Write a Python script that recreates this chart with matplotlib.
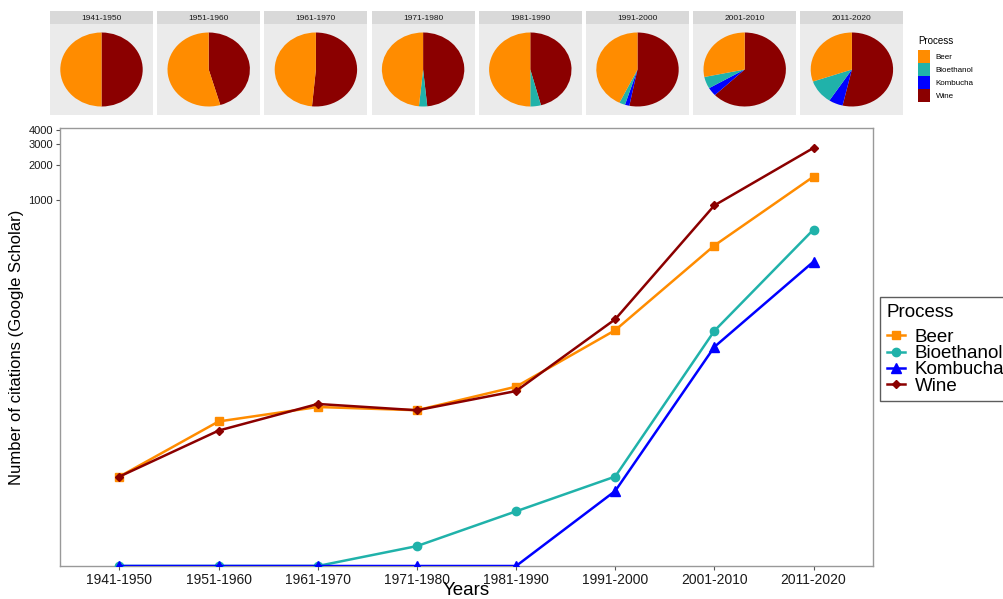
import numpy as np
import matplotlib
matplotlib.use("Agg")
import matplotlib.pyplot as plt
from matplotlib.lines import Line2D
from matplotlib.patches import Patch

plt.rcParams['font.family'] = ['Liberation Sans', 'DejaVu Sans']

decades = ['1941-1950', '1951-1960', '1961-1970', '1971-1980',
           '1981-1990', '1991-2000', '2001-2010', '2011-2020']
processes = ['Beer', 'Bioethanol', 'Kombucha', 'Wine']
beer = [4, 12, 16, 15, 24, 74, 400, 1580]
bioethanol = [0, 0, 0, 1, 2, 4, 73, 550]
kombucha = [0, 0, 0, 0, 0, 3, 53, 290]
wine = [4, 10, 17, 15, 22, 92, 890, 2800]
yticks = [1000, 2000, 3000, 4000]

colors = {'Beer': '#FF8C00', 'Bioethanol': '#20B2AA',
          'Kombucha': '#0000FF', 'Wine': '#8B0000'}
markers = {'Beer': 's', 'Bioethanol': 'o', 'Kombucha': '^', 'Wine': 'D'}
msizes = {'Beer': 6, 'Bioethanol': 6, 'Kombucha': 6.5, 'Wine': 4.2}
series = {'Beer': beer, 'Bioethanol': bioethanol,
          'Kombucha': kombucha, 'Wine': wine}

W, H = 1004, 599
fig = plt.figure(figsize=(W / 100, H / 100), dpi=100)

def box(x0, y0, x1, y1):
    return [x0 / W, 1 - y1 / H, (x1 - x0) / W, (y1 - y0) / H]

# --- small pies on top ---
pie_order = ['Wine', 'Kombucha', 'Bioethanol', 'Beer']
for i, d in enumerate(decades):
    x0 = 50 + i * 107.2
    ax = fig.add_axes(box(x0, 24, x0 + 103, 115))
    vals = [series[p][i] for p in pie_order]
    ax.pie(vals, colors=[colors[p] for p in pie_order], startangle=90,
           counterclock=False, radius=1, wedgeprops=dict(linewidth=0))
    ax.set_aspect('auto')
    ax.set_xlim(-1.25, 1.25)
    ax.set_ylim(-1.23, 1.23)
    ax.set_frame_on(True)
    ax.set_facecolor('#EBEBEB')
    ax.set_xticks([]); ax.set_yticks([])
    for s in ax.spines.values():
        s.set_visible(False)
    sx = fig.add_axes(box(x0, 11, x0 + 103, 24))
    sx.set_facecolor('#D9D9D9')
    sx.set_xticks([]); sx.set_yticks([])
    for s in sx.spines.values():
        s.set_visible(False)
    sx.text(0.5, 0.45, d, ha='center', va='center', fontsize=6,
            color='#1A1A1A', transform=sx.transAxes)

pie_handles = [Patch(facecolor=colors[p], edgecolor='none', label=p)
               for p in processes]
pleg = fig.legend(handles=pie_handles, title='Process', loc='upper left',
                  bbox_to_anchor=(918 / W, 1 - 36 / H), frameon=False,
                  fontsize=5.8, title_fontsize=7, handlelength=1.5,
                  handleheight=2.1, labelspacing=0.0, handletextpad=0.7,
                  borderpad=0, borderaxespad=0, alignment='left')
pleg._legend_box.sep = 3

# --- main line chart ---
ax = fig.add_axes(box(60, 128, 873, 566))
allv = np.array(beer + bioethanol + kombucha + wine, dtype=float)
lo = np.log10(allv[allv > 0].min())
hi = np.log10(allv.max())
span = hi - lo
ymin, ymax = 10 ** (lo - 0.05 * span), 10 ** (hi + 0.05 * span)

x = np.arange(len(decades))
handles = []
for p in processes:
    v = np.array(series[p], dtype=float)
    v = np.where(v > 0, v, ymin)
    ax.plot(x, v, color=colors[p], lw=1.8, marker=markers[p],
            ms=msizes[p], zorder=3)
    handles.append(Line2D([], [], color=colors[p], lw=1.8, marker=markers[p],
                          ms=msizes[p], label=p))

ax.set_yscale('log')
ax.set_ylim(ymin, ymax)
ax.set_xlim(-0.6, len(decades) - 0.4)
ax.set_xticks(x)
ax.set_xticklabels(decades, fontsize=10, color='#1A1A1A')
ax.set_yticks(yticks)
ax.set_yticklabels([str(t) for t in yticks], fontsize=8, color='#1A1A1A')
ax.minorticks_off()
ax.tick_params(axis='both', length=3, color='#555555', width=0.8, pad=2)
for s in ax.spines.values():
    s.set_color('#999999')
    s.set_linewidth(1)
ax.set_xlabel('Years', fontsize=13.5, labelpad=-3.5)
ax.set_ylabel('Number of citations (Google Scholar)', fontsize=12, labelpad=3)

leg = fig.legend(handles=handles, title='Process', loc='upper left',
                 bbox_to_anchor=(880 / W, 1 - 297 / H), fontsize=13.5,
                 title_fontsize=13.5, handlelength=1.0, labelspacing=-0.05,
                 handletextpad=0.5, borderpad=0.35, borderaxespad=0,
                 fancybox=False, alignment='left')
leg._legend_box.sep = 6
leg.get_frame().set_edgecolor('#333333')
leg.get_frame().set_linewidth(1)

fig.savefig('out.png', dpi=100)
